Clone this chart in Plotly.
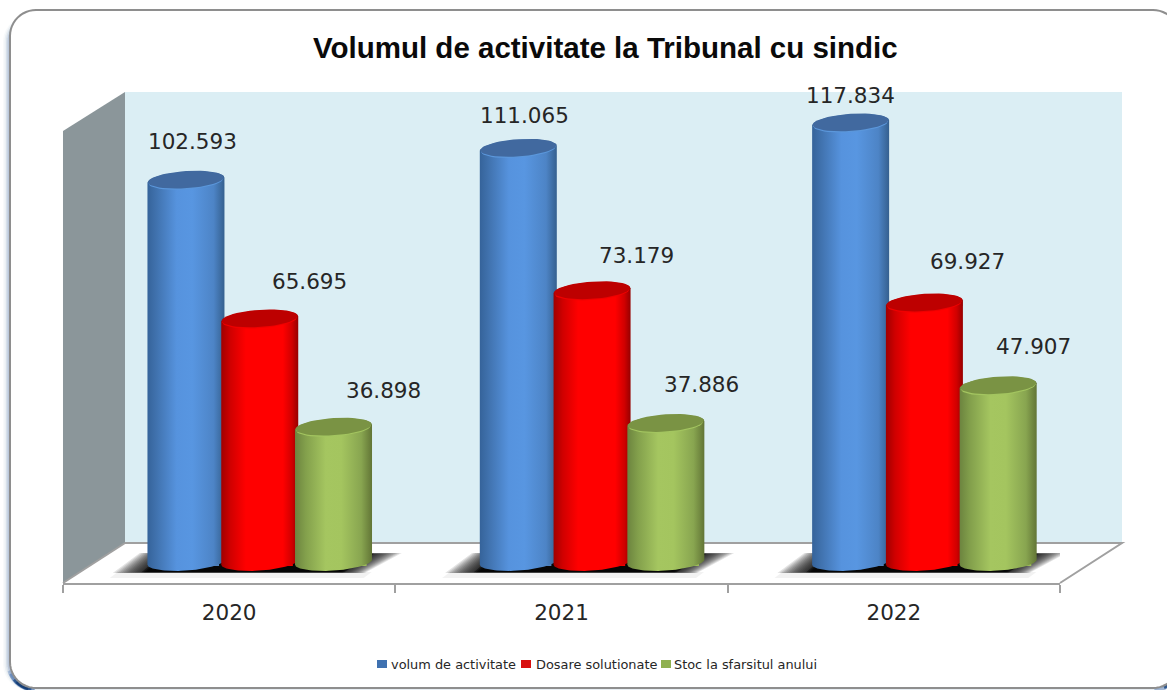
import math
import plotly.graph_objects as go

# ---- data ----
YEARS = ["2020", "2021", "2022"]
VOLUM = [102593, 111065, 117834]
DOSARE = [65695, 73179, 69927]
STOC = [36898, 37886, 47907]
SERIES_NAMES = ["volum de activitate", "Dosare solutionate", "Stoc la sfarsitul anului"]
TITLE = "Volumul de activitate la Tribunal cu sindic"

# ---- geometry & style ----
W, H = 1167, 690
AX_L, AX_R = 63, 1060          # px extents of the x axis
AX_TOP, AX_BOT = 92, 583       # px extents of the y axis
Y0_PX = 566                    # px of value 0
PX_PER_UNIT = 0.00376
PX_PER_CAT = (AX_R - AX_L) / 3
Y_MIN = (Y0_PX - AX_BOT) / PX_PER_UNIT
Y_MAX = (Y0_PX - AX_TOP) / PX_PER_UNIT
X_OFFSETS = [-0.130, 0.092, 0.314]
RX, RY, TILT = 38.5, 8.6, 2.5     # px
BASE_PX = 562
N = 48
FRAME = (10, 10, 1179, 688, 26)

SCALES = [
    [[0, "#35639a"], [0.10, "#3f70ab"], [0.38, "#5693de"], [0.58, "#5896e1"], [0.86, "#4d84c6"], [1, "#35608f"]],
    [[0, "#a00000"], [0.12, "#d00000"], [0.32, "#ff0000"], [0.80, "#ff0000"], [0.92, "#d00000"], [1, "#960000"]],
    [[0, "#6c843f"], [0.14, "#83a04c"], [0.40, "#a5c660"], [0.60, "#a4c55f"], [0.86, "#88a550"], [1, "#627536"]],
]
SOLID = ["#4f81bd", "#f00000", "#9bbb59"]
TOP_DARK = ["#41699f", "#bd0000", "#7a9344"]
TOP_RIM = ["#5b97db", "#f00000", "#a3c560"]
LEGEND_SWATCH = ["#3f71b0", "#d81010", "#8fb050"]

TEXT = "#262626"
FONT = "DejaVu Sans"


def xp(px):
    return px / W


def yp(py):
    return 1 - py / H


def dy(py):
    return (Y0_PX - py) / PX_PER_UNIT


def path_px(points, close=True):
    s = "M " + " L ".join(f"{xp(x):.5f},{yp(y):.5f}" for x, y in points)
    return s + (" Z" if close else "")


shapes = []


def paper_poly(points, fill=None, line=None, lw=0, close=True, layer="below"):
    shapes.append(dict(type="path", xref="paper", yref="paper", path=path_px(points, close), layer=layer,
                       fillcolor=fill if fill else "rgba(0,0,0,0)",
                       line=dict(color=line if line else "rgba(0,0,0,0)", width=lw)))


def rounded_frame(l, t, r, b, rad):
    pts = []
    for cx, cy, a0 in [(r - rad, t + rad, -90), (r - rad, b - rad, 0), (l + rad, b - rad, 90), (l + rad, t + rad, 180)]:
        for k in range(13):
            a = math.radians(a0 + 90 * k / 12)
            pts.append((cx + rad * math.cos(a), cy + rad * math.sin(a)))
    return pts


# frame with soft left shadow and dark corners
L, T, R, B, RAD = FRAME
for off, col in [(7, "rgba(170,185,210,0.08)"), (5.5, "rgba(150,170,200,0.12)"), (4, "rgba(130,155,190,0.18)"),
                 (2.5, "rgba(110,135,175,0.28)")]:
    paper_poly(rounded_frame(L - off, T + 6, R, B + 0.3 * off, RAD), fill=col)
arc = rounded_frame(L, T, R, B, RAD)
for lo, hi, off, w, col in [(26, 37, 2.0, 4, "rgba(90,130,185,0.35)"), (26, 36, 2.0, 3, "rgba(50,95,160,0.45)"),
                            (27, 34, 1.8, 3, "rgba(25,70,130,0.75)"), (28, 33, 1.6, 2.5, "rgba(20,60,115,0.9)")]:
    paper_poly([(x - off * 0.7, y + off) for x, y in arc[lo:hi]], line=col, lw=w, close=False)
for lo, hi, off, w, col in [(19, 26, 2.0, 3.5, "rgba(50,95,160,0.45)"), (19, 23, 1.6, 3, "rgba(25,70,130,0.85)")]:
    paper_poly([(x + off * 0.7, y + off) for x, y in arc[lo:hi]], line=col, lw=w, close=False)
paper_poly(arc, fill="white", line="#8e8e8e", lw=2)

# walls and floor
WALL_BACK = [(125, 92), (1122, 92), (1122, 543), (125, 543)]
WALL_LEFT = [(63, 131), (125, 92), (125, 543), (63, 583)]
paper_poly(WALL_BACK, fill="#dbeef4")
paper_poly(WALL_LEFT, fill="#8b969a")
paper_poly([(125, 543), (1122, 543), (1060, 583)], line="#a0a0a0", lw=2, close=False)
paper_poly([(125, 543), (63, 583)], line="#a0a0a0", lw=2, close=False)

# floor shadows (one per year, placed through the axis scales)
SHADOW = [(-147, 573), (-120, 553), (142, 553), (105, 573)]
HALO = [(-150, 578), (-142, 572), (112, 572), (104, 578)]
for i in range(len(YEARS)):
    cx = i + X_OFFSETS[1]
    shapes.append(dict(type="path", xref="x", yref="y", layer="below", line=dict(width=0),
                       fillcolor="rgba(0,0,0,0.05)",
                       path="M " + " L ".join(f"{cx + sx / PX_PER_CAT:.4f},{dy(sy):.1f}" for sx, sy in HALO) + " Z"))
    for n in range(16):
        f = 1.0 - n * 0.015
        fy = 1.0 - n * 0.006
        op = 0.11 if n < 13 else 0.5
        shapes.append(dict(type="path", xref="x", yref="y", layer="below", line=dict(width=0),
                           fillcolor=f"rgba(0,0,0,{op})",
                           path="M " + " L ".join(
                               f"{cx + sx * f / PX_PER_CAT:.4f},{dy(563 + (sy - 563) * fy):.1f}" for sx, sy in SHADOW) + " Z"))

fig = go.Figure()
ALL = [VOLUM, DOSARE, STOC]

# real bars, from the data
for s, vals in enumerate(ALL):
    fig.add_trace(go.Bar(x=[i + X_OFFSETS[s] for i in range(len(YEARS))], y=vals, width=2 * RX * 0.86 / PX_PER_CAT,
                         marker=dict(color=SOLID[s], line=dict(width=0)), name=SERIES_NAMES[s],
                         showlegend=False, hoverinfo="skip"))


def ellipse(cx, cy_px, rx=RX, ry=RY, tilt=TILT):
    xs, ys = [], []
    for k in range(N + 1):
        t = 2 * math.pi * k / N
        xs.append(cx + rx * math.cos(t) / PX_PER_CAT)
        ys.append(dy(cy_px + ry * math.sin(t) - tilt * math.cos(t)))
    return xs, ys


# cylinder shading, built from the same values
for i in range(len(YEARS)):
    for s, vals in enumerate(ALL):
        cx = i + X_OFFSETS[s]
        top_px = Y0_PX - vals[i] * PX_PER_UNIT
        xs, ys = [], []
        for k in range(N + 1):          # bottom arc, left to right
            t = math.pi - math.pi * k / N
            xs.append(cx + RX * math.cos(t) / PX_PER_CAT)
            ys.append(dy(BASE_PX + RY * math.sin(t) - TILT * math.cos(t)))
        for k in range(N + 1):          # over the top, right to left
            t = -math.pi * k / N
            xs.append(cx + RX * math.cos(t) / PX_PER_CAT)
            ys.append(dy(top_px + RY * math.sin(t) - TILT * math.cos(t)))
        xs.append(xs[0]); ys.append(ys[0])
        fig.add_trace(go.Scatter(x=xs, y=ys, mode="lines", line=dict(width=0), fill="toself",
                                 fillgradient=dict(type="horizontal", colorscale=SCALES[s]),
                                 showlegend=False, hoverinfo="skip"))
        ex, ey = ellipse(cx, top_px + 0.8, RX - 1.2, RY - 0.2)
        fig.add_trace(go.Scatter(x=ex, y=ey, mode="lines", line=dict(width=0), fill="toself",
                                 fillcolor=TOP_RIM[s], showlegend=False, hoverinfo="skip"))
        ex, ey = ellipse(cx, top_px - 0.6, RX - 0.6, RY)
        fig.add_trace(go.Scatter(x=ex, y=ey, mode="lines", line=dict(width=0), fill="toself",
                                 fillcolor=TOP_DARK[s], showlegend=False, hoverinfo="skip"))

# data labels: shift from bar-top centre, in px
LABEL_SHIFT = [
    [(6.5, 39), (50, 37), (50, 37)],
    [(6.5, 33), (44, 35), (36, 39)],
    [(0, 27), (43, 42), (35, 39)],
]
annotations = []
for i in range(len(YEARS)):
    for s, vals in enumerate(ALL):
        sx, sy = LABEL_SHIFT[i][s]
        annotations.append(dict(x=i + X_OFFSETS[s], y=vals[i], xref="x", yref="y", xshift=sx, yshift=sy,
                                text=f"{vals[i]:,}".replace(",", "."), showarrow=False, xanchor="center",
                                yanchor="middle", font=dict(family=FONT, size=21.5, color=TEXT)))

# legend row
LEG_SWATCH_X = [377, 521, 661]
LEG_TEXT_X = [390, 535, 673]
LEG_Y = 664
for s, name in enumerate(SERIES_NAMES):
    paper_poly([(LEG_SWATCH_X[s], LEG_Y - 4), (LEG_SWATCH_X[s] + 10, LEG_Y - 4), (LEG_SWATCH_X[s] + 10, LEG_Y + 4),
                (LEG_SWATCH_X[s], LEG_Y + 4)], fill=LEGEND_SWATCH[s], layer="above")
    annotations.append(dict(x=xp(LEG_TEXT_X[s]), y=yp(LEG_Y), xref="paper", yref="paper", text=name, showarrow=False,
                            xanchor="left", yanchor="middle", xshift=-1,
                            font=dict(family=FONT, size=12.9, color=TEXT)))

annotations.append(dict(x=xp(605), y=yp(47), xref="paper", yref="paper", text=f"<b>{TITLE}</b>", showarrow=False,
                        xanchor="center", yanchor="middle", font=dict(family="Liberation Sans", size=29.5, color="#0a0a0a")))

fig.update_layout(
    width=W, height=H, margin=dict(l=0, r=0, t=0, b=0), paper_bgcolor="white", plot_bgcolor="rgba(0,0,0,0)",
    barmode="overlay", showlegend=False, shapes=shapes, annotations=annotations,
    xaxis=dict(domain=[xp(AX_L), xp(AX_R)], range=[-0.5, 2.5], tickvals=list(range(len(YEARS))), ticktext=YEARS,
               ticks="outside", ticklen=8, tickcolor="rgba(0,0,0,0)", ticklabelstandoff=1,
               tickfont=dict(family=FONT, size=21.5, color=TEXT),
               showgrid=False, zeroline=False, showline=True, linecolor="#a0a0a0", linewidth=2,
               minor=dict(tickvals=[-0.5, 0.5, 1.5, 2.5], ticks="outside", ticklen=8, tickcolor="#a0a0a0", tickwidth=2,
                          showgrid=False)),
    yaxis=dict(domain=[yp(AX_BOT), yp(AX_TOP)], range=[Y_MIN, Y_MAX], visible=False, showgrid=False),
)

fig.write_html("out.html", config=dict(displayModeBar=False),
               post_script="document.body.style.margin='0';document.body.style.overflow='hidden';")
